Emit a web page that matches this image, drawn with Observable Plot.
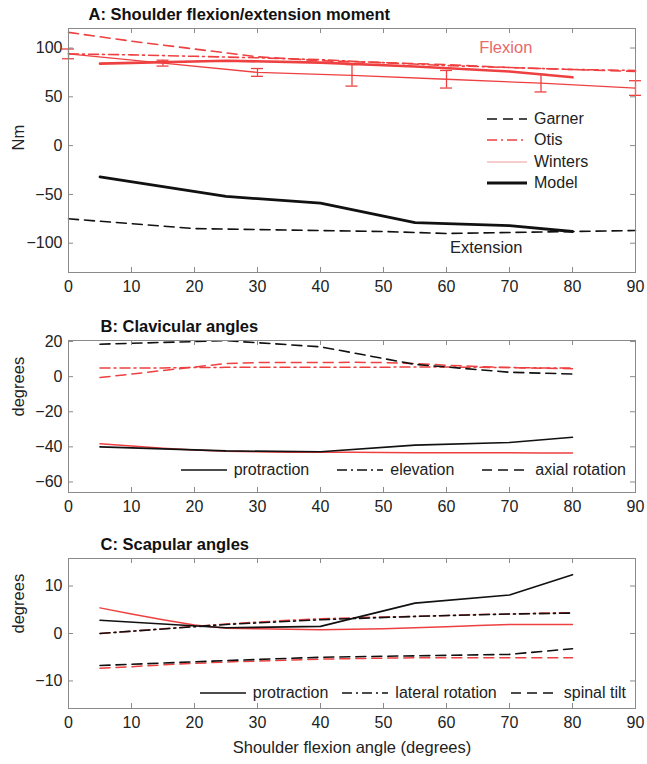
<!DOCTYPE html>
<html><head><meta charset="utf-8">
<script src="https://cdn.jsdelivr.net/npm/d3@7"></script>
<script src="https://cdn.jsdelivr.net/npm/@observablehq/plot@0.6"></script>
<style>
body{margin:0;background:#fff;font-family:"Liberation Sans",Arial,sans-serif;}
#wrap{position:relative;width:647px;height:764px;overflow:hidden;}
#wrap svg.plot{display:block}
.leg{position:absolute;font-size:16px;color:#222;line-height:1;}
.leg .row{display:flex;align-items:center;white-space:nowrap;}
.leg svg{display:block;margin-right:7px;}
</style></head><body><div id="wrap"></div>
<script>
// ---------- data ----------
const xTicks = [0,10,20,30,40,50,60,70,80,90];
// Panel A: shoulder moment (Nm)
const garnerX = [0,10,20,30,40,50,60,70,80,90];
const garnerFlex = [116,107,99,91,87,85,83,80,78,76];
const garnerExt = [-75,-80,-85,-86,-87,-88,-90,-89,-88,-87];
const otisX = [0,10,20,30,40,50,60,70,80,90];
const otisFlex = [94,93,91.5,90,88,85,82,80,78,77];
const wintersX = [0,15,30,45,60,75,90];
const wintersFlex = [94,84.5,75,72,68,64,59];
const wintersErr = [5,3,4,11,9,9,7.5];
const modelX = [5,25,40,55,70,80];
const modelFlex = [84,87,85,81,76,70];
const modelExt = [-32,-52,-59,-79,-82,-88];
const aTicks = [-100,-50,0,50,100];
const aLegend = ["Garner","Otis","Winters","Model"];
const aNotes = [{x:69.4, y:100, text:"Flexion", c:"red"},{x:66.3, y:-105, text:"Extension", c:"black"}];

// Panel B: clavicular angles (degrees)
const measX = [5,10,15,20,25,30,35,40,45,50,55,60,65,70,75,80];
const bProtMeas = [-38.2,-39.5,-40.8,-41.8,-42.5,-42.8,-43,-43,-43.1,-43.2,-43.3,-43.3,-43.4,-43.4,-43.5,-43.5];
const bElevMeas = [5,5,5,5.2,5.3,5.3,5.3,5.3,5.3,5.4,5.5,5.5,5.3,5.2,5,5];
const bAxMeas = [-0.5,1.5,3.5,5.5,7.5,8,8,8,8.2,8,7.5,6.5,5.8,5.2,4.8,4.5];
const bProtModel = [-40,-42.3,-42.8,-39,-37.5,-34.5];
const bAxModel = [18.5,20.5,17,7,2.5,1.5];
const bTicks = [-60,-40,-20,0,20];
const bLegend = ["protraction","elevation","axial rotation"];

// Panel C: scapular angles (degrees)
const cProtMeas = [5.4,4.1,2.9,1.8,1.1,1.0,0.9,0.8,0.9,1.0,1.2,1.4,1.7,1.9,1.9,1.9];
const cLatMeas = [0,0.5,1.0,1.5,2.0,2.4,2.8,3.1,3.3,3.5,3.6,3.8,4.0,4.1,4.3,4.4];
const cTiltMeas = [-7.3,-7.0,-6.6,-6.3,-6.0,-5.8,-5.6,-5.4,-5.3,-5.2,-5.1,-5.1,-5.1,-5.1,-5.1,-5.1];
const cProtModel = [2.8,1.2,1.5,6.4,8.1,12.4];
const cLatModel = [0,1.9,2.9,3.6,4.1,4.3];
const cTiltModel = [-6.75,-5.7,-5.0,-4.7,-4.4,-3.2];
const cTicks = [-10,0,10];
const cLegend = ["protraction","lateral rotation","spinal tilt"];

// ---------- styles ----------
const RED = "#ee4040", BLACK = "#111", AX = "#8a8a8a";
const DASH = "10,6", DASHDOT = "10,4,2,4";
const FONT = "'Liberation Sans', Arial, sans-serif";
const rows = (xs, ys) => xs.map((x,i) => ({x, y: ys[i]}));

function panel({height, marginTop, marginBottom, yDomain, yTicks, title, titleDx, ylabel, xlabel, marks}) {
  const innerH = height - marginTop - marginBottom;
  const innerW = 647 - 68 - 12;
  const extra = [];
  if (xlabel) extra.push(Plot.text([xlabel], {frameAnchor:"bottom", lineAnchor:"middle", dy: 39, fontSize: 16.5, fill:"#222"}));
  return Plot.plot({
    width: 647, height, marginLeft: 68, marginRight: 12, marginTop, marginBottom,
    style: {fontFamily: FONT, fontSize: "16px", color: "#222", background: "#fff", overflow: "visible"},
    x: {domain: [0,90]},
    y: {domain: yDomain},
    marks: [
      ...marks,
      Plot.frame({stroke: AX}),
      Plot.tickX(xTicks, {x: d=>d, stroke: AX, insetTop: innerH-5}),
      Plot.tickX(xTicks, {x: d=>d, stroke: AX, insetBottom: innerH-5}),
      Plot.tickY(yTicks, {y: d=>d, stroke: AX, insetRight: innerW-5}),
      Plot.tickY(yTicks, {y: d=>d, stroke: AX, insetLeft: innerW-5}),
      Plot.axisX({ticks: xTicks, tickSize: 0, tickPadding: 8, label: null, fontSize: 16, fill:"#222"}),
      Plot.axisY({ticks: yTicks, tickSize: 0, tickPadding: 6, label: null, fontSize: 16, fill:"#222"}),
      Plot.text([title], {frameAnchor: "top-left", lineAnchor: "middle", dx: titleDx, dy: -14, textAnchor: "start", fontWeight: "bold", fontSize: 16.5, fill:"#111"}),
      Plot.text([ylabel], {frameAnchor: "left", dx: -50, rotate: -90, fontSize: 16.5, fill:"#222"}),
      ...extra
    ]
  });
}

const wrap = document.getElementById("wrap");

// Panel A
const wRows = wintersX.map((x,i) => ({x, y: wintersFlex[i], e: wintersErr[i]}));
const capW = 0.95;
const A = panel({
  height: 305, marginTop: 28, marginBottom: 33, yDomain: [-130,120], yTicks: aTicks,
  title: "A: Shoulder flexion/extension moment", titleDx: 20, ylabel: "Nm",
  marks: [
    Plot.line(rows(garnerX, garnerFlex), {x:"x", y:"y", stroke: RED, strokeWidth: 1.6, strokeDasharray: DASH}),
    Plot.line(rows(otisX, otisFlex), {x:"x", y:"y", stroke: RED, strokeWidth: 1.6, strokeDasharray: DASHDOT}),
    Plot.line(rows(wintersX, wintersFlex), {x:"x", y:"y", stroke: RED, strokeWidth: 1.3}),
    Plot.ruleX(wRows, {x:"x", y1: d=>d.y-d.e, y2: d=>d.y+d.e, stroke: RED, strokeWidth: 1.3}),
    Plot.ruleY(wRows, {y: d=>d.y+d.e, x1: d=>d.x-capW, x2: d=>d.x+capW, stroke: RED, strokeWidth: 1.3}),
    Plot.ruleY(wRows, {y: d=>d.y-d.e, x1: d=>d.x-capW, x2: d=>d.x+capW, stroke: RED, strokeWidth: 1.3}),
    Plot.line(rows(modelX, modelFlex), {x:"x", y:"y", stroke: RED, strokeWidth: 2.6}),
    Plot.line(rows(garnerX, garnerExt), {x:"x", y:"y", stroke: BLACK, strokeWidth: 1.6, strokeDasharray: DASH}),
    Plot.line(rows(modelX, modelExt), {x:"x", y:"y", stroke: BLACK, strokeWidth: 2.8}),
    Plot.text(aNotes, {x:"x", y:"y", text:"text", fill: d => d.c === "red" ? "#e86a6a" : "#222", fontSize: 16.5})
  ]
});
A.classList.add("plot");
wrap.appendChild(A);

// Panel B
const B = panel({
  height: 217, marginTop: 35, marginBottom: 30, yDomain: [-66,20.6], yTicks: bTicks,
  title: "B: Clavicular angles", titleDx: 32, ylabel: "degrees",
  marks: [
    Plot.line(rows(measX, bAxMeas), {x:"x", y:"y", stroke: RED, strokeWidth: 1.5, strokeDasharray: DASH}),
    Plot.line(rows(measX, bElevMeas), {x:"x", y:"y", stroke: RED, strokeWidth: 1.5, strokeDasharray: DASHDOT}),
    Plot.line(rows(measX, bProtMeas), {x:"x", y:"y", stroke: RED, strokeWidth: 1.5}),
    Plot.line(rows(modelX, bAxModel), {x:"x", y:"y", stroke: BLACK, strokeWidth: 1.6, strokeDasharray: DASH}),
    Plot.line(rows(modelX, bProtModel), {x:"x", y:"y", stroke: BLACK, strokeWidth: 1.6})
  ]
});
B.classList.add("plot");
wrap.appendChild(B);

// Panel C
const C = panel({
  height: 242, marginTop: 36, marginBottom: 56, yDomain: [-15.8,15.8], yTicks: cTicks,
  title: "C: Scapular angles", titleDx: 32, ylabel: "degrees", xlabel: "Shoulder flexion angle (degrees)",
  marks: [
    Plot.line(rows(measX, cTiltMeas), {x:"x", y:"y", stroke: RED, strokeWidth: 1.5, strokeDasharray: DASH}),
    Plot.line(rows(measX, cLatMeas), {x:"x", y:"y", stroke: RED, strokeWidth: 1.5, strokeDasharray: DASHDOT}),
    Plot.line(rows(measX, cProtMeas), {x:"x", y:"y", stroke: RED, strokeWidth: 1.5}),
    Plot.line(rows(modelX, cTiltModel), {x:"x", y:"y", stroke: BLACK, strokeWidth: 1.6, strokeDasharray: DASH}),
    Plot.line(rows(modelX, cLatModel), {x:"x", y:"y", stroke: BLACK, strokeWidth: 1.6, strokeDasharray: DASHDOT}),
    Plot.line(rows(modelX, cProtModel), {x:"x", y:"y", stroke: BLACK, strokeWidth: 1.6})
  ]
});
C.classList.add("plot");
wrap.appendChild(C);

// ---------- legends (HTML overlays) ----------
function sample(stroke, width, dash, len) {
  return `<svg width="${len}" height="14"><line x1="0" x2="${len}" y1="7" y2="7" stroke="${stroke}" stroke-width="${width}" ${dash ? `stroke-dasharray="${dash}"` : ""}/></svg>`;
}
const aStyles = [[BLACK,1.6,DASH],[RED,1.6,DASHDOT],["#f09a9a",1.2,null],[BLACK,2.8,null]];
const legA = document.createElement("div");
legA.className = "leg";
legA.style.left = "487px"; legA.style.top = "108px";
legA.innerHTML = aLegend.map((n,i) => `<div class="row" style="height:21.5px">${sample(aStyles[i][0], aStyles[i][1], aStyles[i][2], 40)}<span>${n}</span></div>`).join("");
wrap.appendChild(legA);

const hStyles = [[BLACK,1.5,null],[BLACK,1.5,DASHDOT],[BLACK,1.5,DASH]];
function hLegend(names, top, gap, len) {
  const d = document.createElement("div");
  d.className = "leg";
  d.style.right = "21px"; d.style.top = top + "px";
  d.innerHTML = `<div class="row">` + names.map((n,i) => `${sample(hStyles[i][0], hStyles[i][1], hStyles[i][2], len)}<span style="margin-right:${i < names.length-1 ? gap : 0}px">${n}</span>`).join("") + `</div>`;
  wrap.appendChild(d);
}
hLegend(bLegend, 462, 28, 46);
hLegend(cLegend, 685, 14, 46);
</script></body></html>
